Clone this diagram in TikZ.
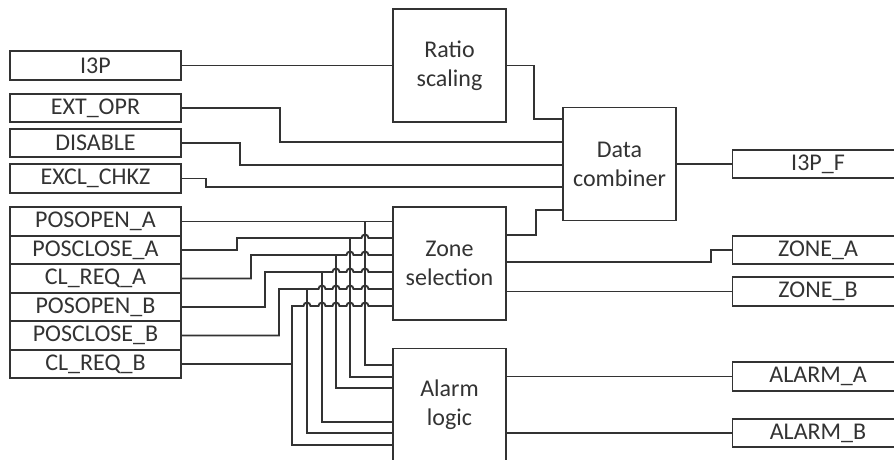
\documentclass[tikz,border=0pt]{standalone}
\usepackage{fontspec}
\setmainfont{Carlito}
\definecolor{wirecol}{HTML}{333333}
\tikzset{
  wire/.style={draw=wirecol,line width=1.9pt},
  blk/.style={draw=wirecol,line width=1.9pt,text=wirecol,minimum width=113pt,minimum height=113pt,inner sep=0pt,align=center,font=\fontsize{24}{29}\selectfont},
  sig/.style={draw=wirecol,line width=1.9pt,text=wirecol,minimum width=171pt,minimum height=28.5pt,inner sep=0pt,font=\fontsize{24}{28}\selectfont},
}
\begin{document}
\begin{tikzpicture}[x=1pt,y=-1pt]
\useasboundingbox (0,0) rectangle (894,459);
\clip (0,0) rectangle (894,459);
\node[sig] (i3p) at (95.5,65.5) {I3P};
\node[sig] (extopr) at (95.5,108) {EXT\_OPR};
\node[sig] (disable) at (95.5,143) {DISABLE};
\node[sig] (exclchkz) at (95.5,178.5) {EXCL\_CHKZ};
\node[sig] (posopena) at (95.5,221.5) {POSOPEN\_A};
\node[sig] (poscla) at (95.5,250) {POSCLOSE\_A};
\node[sig] (clreqa) at (95.5,278.5) {CL\_REQ\_A};
\node[sig] (posopenb) at (95.5,307) {POSOPEN\_B};
\node[sig] (posclb) at (95.5,335.5) {POSCLOSE\_B};
\node[sig] (clreqb) at (95.5,364) {CL\_REQ\_B};
\node[blk] (ratio) at (449.5,65.5) {Ratio\\scaling};
\node[blk] (comb) at (619.5,164) {Data\\combiner};
\node[blk] (zone) at (449.5,263.5) {Zone\\selection};
\node[blk] (alarm) at (449.5,405) {Alarm\\logic};
\node[sig] (i3pf) at (818,164) {I3P\_F};
\node[sig] (zonea) at (818,250) {ZONE\_A};
\node[sig] (zoneb) at (818,291.5) {ZONE\_B};
\node[sig] (alarma) at (818,376.5) {ALARM\_A};
\node[sig] (alarmb) at (818,433) {ALARM\_B};
% data path
\draw[wire] (i3p) -- (ratio);
\draw[wire] (ratio.east) -| (534,119) -- (comb.west |- 0,119);
\draw[wire] (extopr.east) -| (280,142) -- (comb.west |- 0,142);
\draw[wire] (disable.east) -| (240,165) -- (comb.west |- 0,165);
\draw[wire] (exclchkz.east) -| (206,187) -- (comb.west |- 0,187);
\draw[wire] (comb) -- (i3pf);
\draw[wire] (zone.east |- 0,235) -| (536,210) -- (comb.west |- 0,210);
\draw[wire] (zone.east |- 0,262) -| (711,250) -- (zonea.west);
\draw[wire] (zone.east |- zoneb.west) -- (zoneb.west);
\draw[wire] (alarm.east |- alarma.west) -- (alarma.west);
\draw[wire] (alarm.east |- alarmb.west) -- (alarmb.west);
% position inputs
\draw[wire] (posopena.east) -- (zone.west |- posopena.east);
\draw[wire] (365,221.5) |- (alarm.west |- 0,365);
\foreach \src/\jx/\zy/\bx/\ay/\hops in {poscla/237/238/350/377/{365},clreqa/251/255/336/388/{350,365},posopenb/265/272/322/422/{336,350,365},posclb/279/289/307/433/{322,336,350,365},clreqb/292/306/292/445/{307,322,336,350,365}}{
  \draw[wire] (\src.east) -| (\jx,\zy) \foreach \h in \hops {-- (\h-3.5,\zy) arc[start angle=180,end angle=0,radius=3.5pt]} -- (zone.west |- 0,\zy);
  \draw[wire] (\bx,\zy) |- (alarm.west |- 0,\ay);
}
\end{tikzpicture}
\end{document}
